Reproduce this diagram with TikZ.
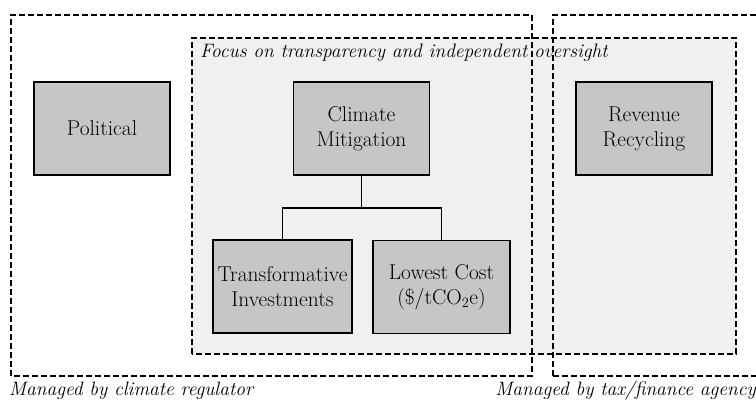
\documentclass[tikz,border=0pt]{standalone}
\usepackage{tikz}

\tikzset{
    box/.style={draw, line width=1.4bp, fill=gray!45, minimum width=136bp, minimum height=93bp, align=center, inner sep=2bp, font=\fontsize{21.5}{25}\selectfont},
    region/.style={draw, dashed, dash pattern=on 6bp off 3bp, line width=1.2bp},
    note/.style={font=\fontsize{19.5}{22}\selectfont\itshape, inner sep=0pt}
}

\begin{document}
\begin{tikzpicture}[x=1bp, y=1bp]
    \clip (0,0) rectangle (756,400);

    % focus area
    \draw[region, fill=gray!12] (192,46) rectangle (736,362);
    \node[note, anchor=base west] (focus) at (200,343) {Focus on transparency and independent oversight};

    % managing bodies
    \draw[region] (11,24) rectangle (532,385);
    \draw[region] (553,24) rectangle (780,385);
    \node[note, anchor=base west] (climlbl) at (9,5) {Managed by climate regulator};
    \node[note, anchor=base east] (taxlbl) at (756,5) {Managed by tax/finance agency};

    % boxes
    \node[box] (pol) at (102,271.5) {Political};
    \node[box] (clim) at (361.5,271.5) {Climate\\Mitigation};
    \node[box] (rev) at (644,271.5) {Revenue\\Recycling};
    \node[box, minimum width=139bp] (trans) at (282.5,113.5) {Transformative\\Investments};
    \node[box, minimum width=137bp] (low) at (441.5,113) {Lowest Cost\\(\$/tCO$_2$e)};

    % tree
    \draw[line width=1.6bp] (clim.south) -- ++(0,-32) -| (trans.north);
    \draw[line width=1.6bp] (clim.south) -- ++(0,-32) -| (low.north);
\end{tikzpicture}
\end{document}
